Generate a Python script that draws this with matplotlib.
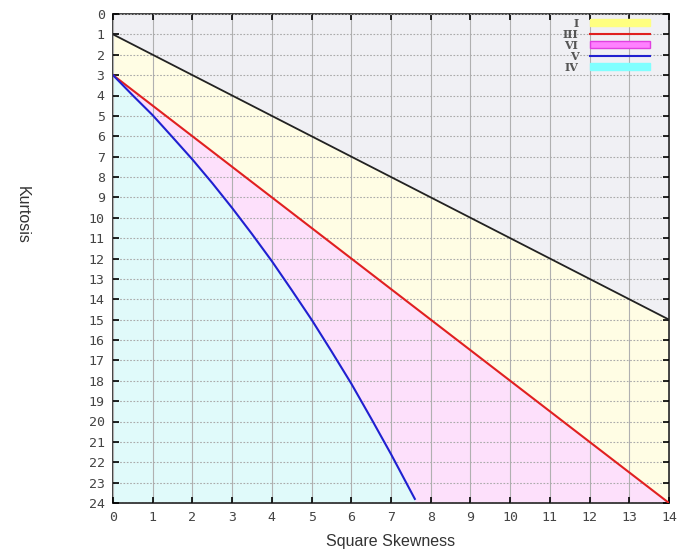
import numpy as np
import matplotlib.pyplot as plt
from matplotlib.patches import Patch
from matplotlib.lines import Line2D

# square skewness (beta1) grid and the three boundary lines
skew_x = [0, 14]
upper_bound = [1, 15]       # impossible-region limit
type3_line = [3, 24]        # Pearson type III line

# type V curve
type5_x = [0, 0.5, 1, 1.5, 2, 2.5, 3, 3.5, 4, 4.5, 5, 5.5, 6, 6.5, 7, 7.6]
type5_y = [3, 4.0, 4.97, 6.05, 7.14, 8.3, 9.52, 10.8, 12.13, 13.55, 15.0, 16.55, 18.14, 19.85, 21.6, 23.8]

x_ticks = list(range(0, 15))
y_ticks = list(range(0, 25))
legend_names = ['I', 'III', 'VI', 'V', 'IV']

fig = plt.figure(figsize=(6.81, 5.51), dpi=100)
ax = fig.add_axes([113 / 681, 48 / 551, 556 / 681, 489 / 551])

xs = np.linspace(0, 14, 300)
top = np.interp(xs, skew_x, upper_bound)
red = np.interp(xs, skew_x, type3_line)
blue_x = np.array(type5_x)
blue_y = np.array(type5_y)

ax.fill_between(xs, 0, top, color='#f0f0f4', lw=0, zorder=0)
ax.fill_between(xs, top, red, color='#fffde4', lw=0, zorder=0)
ax.fill_between(xs, red, 24, color='#fde0fb', lw=0, zorder=0)
ax.fill_between(blue_x, blue_y, 24, color='#e0fafa', lw=0, zorder=0)

ax.plot(skew_x, upper_bound, color='#222222', lw=1.3, zorder=3)
ax.plot(skew_x, type3_line, color='#e02020', lw=1.5, zorder=3)
ax.plot(type5_x, type5_y, color='#2020d0', lw=1.5, zorder=3)

ax.set_xlim(0, 14)
ax.set_ylim(24, 0)
ax.set_xticks(x_ticks)
ax.set_yticks(y_ticks)
mono = {'family': 'DejaVu Sans Mono', 'size': 9.5, 'color': '#444444'}
ax.set_xticklabels([str(v) for v in x_ticks], fontdict=mono)
ax.set_yticklabels([str(v) for v in y_ticks], fontdict=mono)
ax.tick_params(direction='in', length=4, width=1.2, top=True, right=True, pad=6)
ax.set_axisbelow(False)

ax.xaxis.grid(True, color='#b0b0b0', lw=0.8, ls='-', zorder=1)
ax.yaxis.grid(True, color='#aaaaaa', lw=0.8, ls=(0, (1.5, 1.5)), zorder=1)
for sp in ax.spines.values():
    sp.set_color('#333333')
    sp.set_linewidth(1.3)

ax.set_xlabel('Square Skewness', fontsize=11.5, color='#333333', labelpad=7,
              family='Liberation Sans')
fig.text(22 / 681, 1 - 215 / 551, 'Kurtosis', rotation=270, fontsize=11.5,
         color='#333333', ha='center', va='center', family='Liberation Sans')

handles = [
    Patch(facecolor='#ffff80', edgecolor='#ffff80'),
    Line2D([], [], color='#e02020', lw=1.5),
    Patch(facecolor='#ff80ff', edgecolor='#e040e0'),
    Line2D([], [], color='#2020d0', lw=1.5),
    Patch(facecolor='#80ffff', edgecolor='#80ffff'),
]
leg = ax.legend(handles, legend_names, loc='upper right', markerfirst=False,
                frameon=False, handlelength=5.4, handleheight=0.5,
                labelspacing=0.0, handletextpad=1.0, borderpad=0.0,
                prop={'family': 'DejaVu Serif', 'size': 8, 'weight': 'bold'},
                bbox_to_anchor=(0.975, 1.004))
for t in leg.get_texts():
    t.set_color('#555555')

fig.savefig('out.png', dpi=100)
